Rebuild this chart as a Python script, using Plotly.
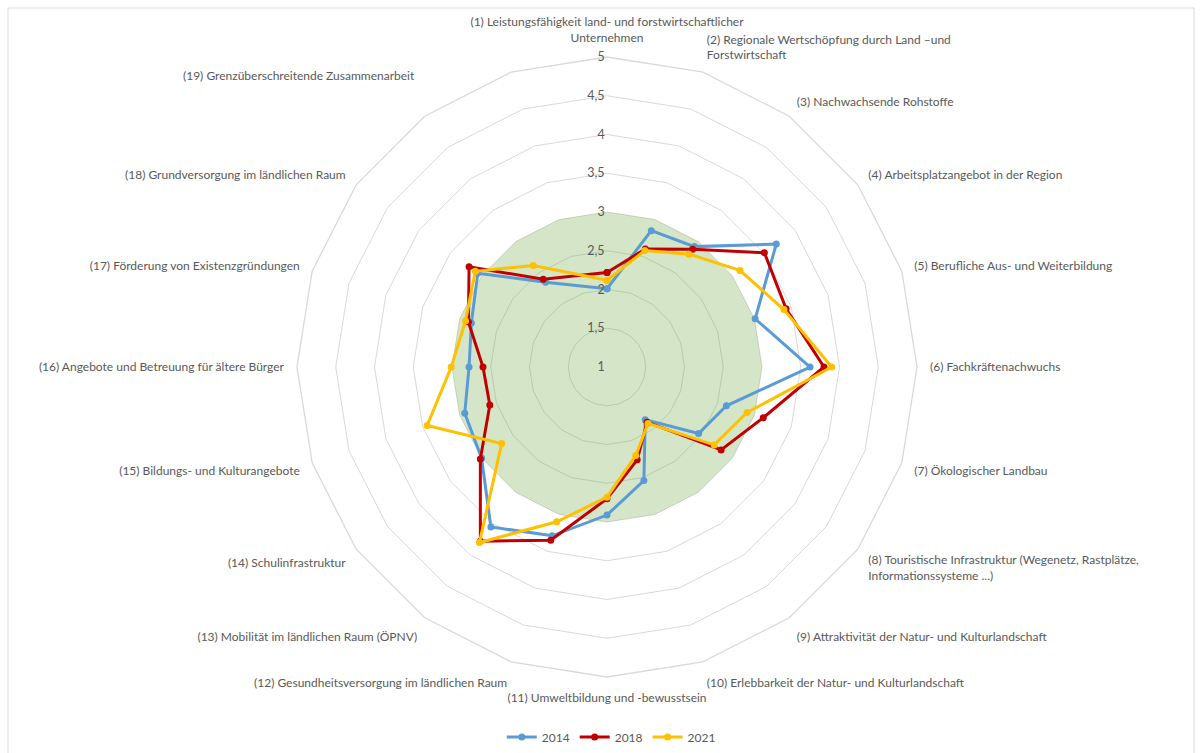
import plotly.graph_objects as go

categories = [
    "(1) Leistungsfähigkeit land- und forstwirtschaftlicher<br>Unternehmen",
    "(2) Regionale Wertschöpfung durch Land –und<br>Forstwirtschaft",
    "(3) Nachwachsende Rohstoffe",
    "(4) Arbeitsplatzangebot in der Region",
    "(5) Berufliche Aus- und Weiterbildung",
    "(6) Fachkräftenachwuchs",
    "(7) Ökologischer Landbau",
    "(8) Touristische Infrastruktur (Wegenetz, Rastplätze,<br>Informationssysteme ...)",
    "(9) Attraktivität der Natur- und Kulturlandschaft",
    "(10) Erlebbarkeit der Natur- und Kulturlandschaft",
    "(11) Umweltbildung und -bewusstsein",
    "(12) Gesundheitsversorgung im ländlichen Raum",
    "(13) Mobilität im ländlichen Raum (ÖPNV)",
    "(14) Schulinfrastruktur",
    "(15) Bildungs- und Kulturangebote",
    "(16) Angebote und Betreuung für ältere Bürger",
    "(17) Förderung von Existenzgründungen",
    "(18) Grundversorgung im ländlichen Raum",
    "(19) Grenzüberschreitende Zusammenarbeit",
]
blank_category = " "

values_2014 = [2.01, 2.85, 2.92, 3.70, 3.01, 3.62, 2.62, 2.46, 1.84, 2.54,
               2.91, 3.29, 3.55, 3.00, 2.93, 2.78, 2.84, 3.06, 2.35]
values_2018 = [2.22, 2.60, 2.88, 3.51, 3.43, 3.80, 3.12, 2.82, 1.88, 2.26,
               2.70, 3.35, 3.78, 3.02, 2.59, 2.60, 2.88, 3.20, 2.40]
values_2021 = [2.12, 2.58, 2.80, 3.12, 3.40, 3.90, 2.90, 2.71, 1.90, 2.20,
               2.68, 3.10, 3.80, 2.68, 3.44, 3.01, 2.92, 3.10, 2.62]
reference_value = 3

tick_values = [1, 1.5, 2, 2.5, 3, 3.5, 4, 4.5, 5]
tick_labels = ["1", "1,5", "2", "2,5", "3", "3,5", "4", "4,5", "5"]

series = [
    ("2014", values_2014, "#5B9BD5"),
    ("2018", values_2018, "#C00000"),
    ("2021", values_2021, "#FFC000"),
]

all_categories = categories + [blank_category]
# the last category label is drawn as a separate annotation (placed higher, as in the original)
angular_ticktext = categories[:-1] + ["", ""]

fig = go.Figure()

fig.add_trace(go.Scatterpolar(
    r=[reference_value] * len(all_categories) + [reference_value],
    theta=all_categories + [all_categories[0]],
    mode="lines",
    fill="toself",
    fillcolor="rgba(112,173,71,0.30)",
    line=dict(width=0, color="rgba(0,0,0,0)"),
    showlegend=False,
    hoverinfo="skip",
))

for name, vals, color in series:
    fig.add_trace(go.Scatterpolar(
        r=vals + [vals[0]],
        theta=categories + [categories[0]],
        mode="lines+markers",
        name=name,
        line=dict(color=color, width=3),
        marker=dict(color=color, size=7),
    ))

W, H = 1201, 753
cx, cy, R = 607, 367, 310
label_font = dict(family="Lato, sans-serif", size=12, color="#595959")

fig.update_layout(
    width=W, height=H,
    margin=dict(l=0, r=0, t=0, b=0),
    paper_bgcolor="white",
    plot_bgcolor="white",
    font=label_font,
    polar=dict(
        domain=dict(x=[(cx - R) / W, (cx + R) / W],
                    y=[(H - cy - R) / H, (H - cy + R) / H]),
        gridshape="linear",
        bgcolor="white",
        radialaxis=dict(
            range=[1, 5],
            tickvals=tick_values,
            ticktext=tick_labels,
            angle=90,
            side="counterclockwise",
            tickangle=90,
            showline=False,
            ticks="",
            gridcolor="#d9d9d9",
            gridwidth=1.3,
            tickfont=dict(family="Lato, sans-serif", size=12.5, color="#595959"),
        ),
        angularaxis=dict(
            type="category",
            categoryarray=all_categories,
            tickvals=all_categories,
            ticktext=angular_ticktext,
            rotation=90,
            direction="clockwise",
            showgrid=False,
            showline=True,
            linecolor="#d9d9d9",
            linewidth=1.3,
            ticks="outside",
            ticklen=10,
            tickcolor="rgba(0,0,0,0)",
            tickfont=label_font,
        ),
    ),
    legend=dict(
        orientation="h",
        x=0.509, xanchor="center",
        y=(H - 737) / H, yanchor="middle",
        font=dict(family="Lato, sans-serif", size=12, color="#595959"),
        itemwidth=30,
    ),
    annotations=[dict(
        text=categories[-1], xref="paper", yref="paper",
        x=417 / W, y=(H - 75) / H, xanchor="right", yanchor="middle",
        showarrow=False, font=label_font,
    )],
    shapes=[dict(type="rect", xref="paper", yref="paper",
                 x0=8 / W, x1=(W - 7) / W, y0=-0.01, y1=(H - 8) / H,
                 line=dict(color="#d9d9d9", width=1), layer="below")],
)

fig.write_html("out.html")
